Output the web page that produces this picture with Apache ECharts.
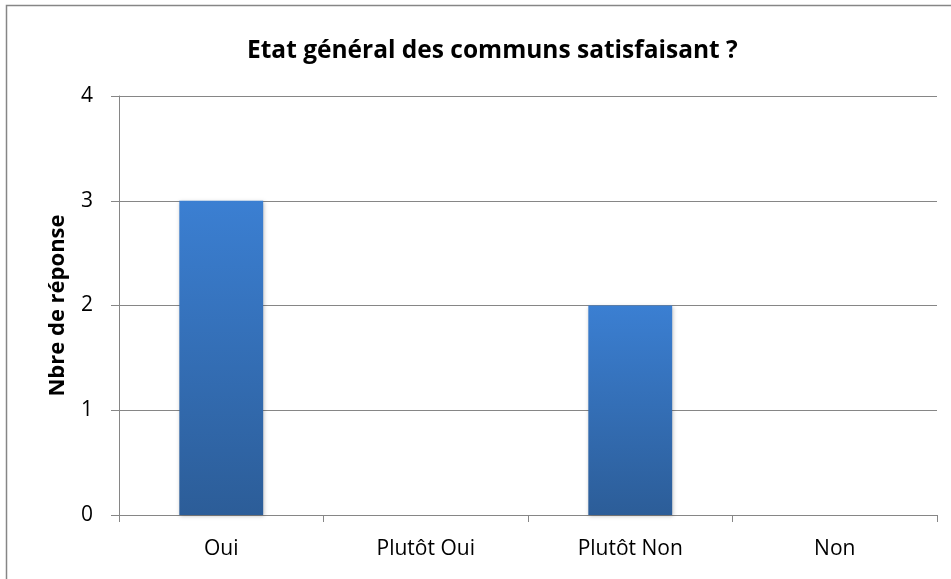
<!DOCTYPE html>
<html>
<head>
<meta charset="utf-8">
<script src="https://cdn.jsdelivr.net/npm/echarts@6/dist/echarts.min.js"></script>
<style>
  html, body { margin: 0; padding: 0; background: #fff; }
  #main { width: 951px; height: 579px; }
</style>
</head>
<body>
<div id="main"></div>
<script>
  var categories = ['Oui', 'Plutôt Oui', 'Plutôt Non', 'Non'];
  var values = [3, 0, 2, 0];
  var titleText = 'Etat général des communs satisfaisant ?';
  var yName = 'Nbre de réponse';

  var chart = echarts.init(document.getElementById('main'));
  var option = {
    backgroundColor: '#fff',
    animation: false,
    title: {
      text: titleText,
      left: 242,
      top: 34,
      textStyle: { fontFamily: 'Open Sans', fontSize: 24.5, fontWeight: 'bold', color: '#000' }
    },
    // cadre (seuls le haut et la gauche sont visibles)
    graphic: [{
      type: 'polyline',
      shape: { points: [[6.5, 579], [6.5, 5.5], [951, 5.5]] },
      style: { fill: 'none', stroke: '#868686', lineWidth: 1.5 }
    }],
    grid: { left: 119, right: 14, top: 96, bottom: 64 },
    xAxis: {
      type: 'category',
      data: categories,
      axisLine: { lineStyle: { color: '#868686' } },
      axisTick: { show: true, length: 7, lineStyle: { color: '#868686' } },
      axisLabel: { color: '#000', fontFamily: 'Open Sans', fontSize: 21, margin: 24 }
    },
    yAxis: {
      type: 'value',
      min: 0,
      max: 4,
      interval: 1,
      name: yName,
      nameLocation: 'middle',
      nameGap: 50,
      nameTextStyle: { fontFamily: 'Open Sans', fontSize: 22, fontWeight: 'bold', color: '#000' },
      axisLine: { show: true, lineStyle: { color: '#868686' } },
      axisTick: { show: true, length: 8, lineStyle: { color: '#868686' } },
      axisLabel: { color: '#000', fontFamily: 'Open Sans', fontSize: 21, margin: 26 },
      splitLine: { lineStyle: { color: '#868686' } }
    },
    series: [{
      type: 'bar',
      data: values,
      barWidth: '41%',
      itemStyle: {
        color: new echarts.graphic.LinearGradient(0, 0, 0, 1, [
          { offset: 0, color: '#3b7fd2' },
          { offset: 1, color: '#2c5d98' }
        ]),
        shadowColor: 'rgba(0,0,0,0.25)',
        shadowBlur: 4,
        shadowOffsetX: 1,
        shadowOffsetY: 1
      }
    }]
  };
  chart.setOption(option);
</script>
</body>
</html>
